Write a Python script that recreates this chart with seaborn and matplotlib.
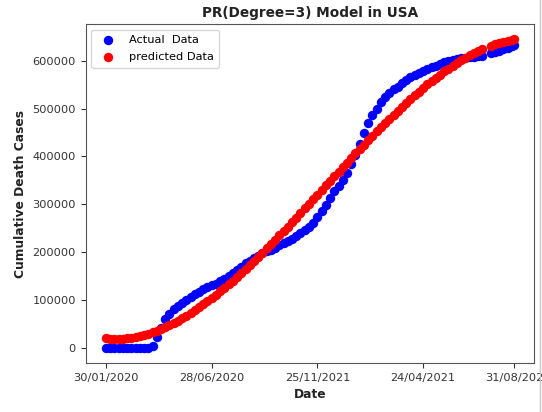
import matplotlib
matplotlib.use("Agg")
import matplotlib.pyplot as plt
from matplotlib.lines import Line2D
import seaborn as sns
import pandas as pd

# Day index counted from 30/01/2020
days = [0, 6, 12, 18, 24, 30, 36, 42, 48, 54, 60, 66, 72, 78, 84, 90, 96, 102,
        108, 114, 120, 126, 132, 138, 144, 150, 156, 162, 168, 174, 180, 186,
        192, 198, 204, 210, 216, 222, 228, 234, 240, 246, 252, 258, 264, 270,
        276, 282, 288, 294, 300, 306, 312, 318, 324, 330, 336, 342, 348, 354,
        360, 366, 372, 378, 384, 390, 396, 402, 408, 414, 420, 426, 432, 438,
        444, 450, 456, 462, 468, 474, 480, 486, 492, 498, 504, 510, 516, 522,
        528, 534, 546, 552, 558, 564, 570, 576, 579]

# Cumulative deaths, recorded
actual = [0, 0, 0, 0, 0, 0, 0, 0, 0, 0, 0, 3000, 22000, 42000, 60000, 71000,
          80000, 86000, 94000, 100000, 106000, 112000, 117000, 122000, 126000,
          130000, 134000, 139000, 144000, 149000, 155000, 162000, 169000,
          176000, 182000, 187000, 192000, 197000, 201000, 205000, 209000,
          214000, 218000, 223000, 228000, 234000, 240000, 246000, 253000,
          261000, 273000, 286000, 299000, 313000, 327000, 339000, 350000,
          365000, 383000, 403000, 425000, 448000, 469000, 486000, 500000,
          513000, 524000, 533000, 540000, 546000, 553000, 559000, 565000,
          570000, 574000, 578000, 582000, 586000, 590000, 594000, 597000,
          599000, 601000, 603000, 605000, 606000, 607000, 608000, 609000,
          610000, 617000, 619000, 621000, 624000, 627000, 630000, 632000]

# Cumulative deaths, degree-3 polynomial regression output
predicted = [19500, 18700, 18400, 18400, 18800, 19700, 20800, 22400, 24300,
             26500, 29100, 32100, 35300, 38900, 42700, 46900, 51400, 56100,
             61200, 66500, 72000, 77800, 83900, 90200, 96700, 103400, 110400,
             117500, 124900, 132400, 140100, 148000, 156100, 164300, 172600,
             181100, 189800, 198500, 207400, 216400, 225400, 234600, 243800,
             253200, 262600, 272000, 281500, 291000, 300600, 310200, 319900,
             329500, 339100, 348800, 358400, 368000, 377500, 387100, 396600,
             406000, 415400, 424700, 433900, 443000, 452100, 461000, 469800,
             478600, 487200, 495600, 503900, 512100, 520100, 527900, 535600,
             543100, 550400, 557500, 564400, 571000, 577500, 583700, 589700,
             595400, 600900, 606100, 611100, 615700, 620100, 624200, 631400,
             634600, 637400, 639900, 642100, 643800, 644600]

tick_days = [0, 150, 300, 450, 579]
tick_labels = ["30/01/2020", "28/06/2020", "25/11/2021", "24/04/2021", "31/08/202"]
y_ticks = [0, 100000, 200000, 300000, 400000, 500000, 600000]

df = pd.DataFrame({"day": days, "actual": actual, "predicted": predicted})

plt.rcParams["font.family"] = ["DejaVu Sans"]
W, H = 542, 412
fig = plt.figure(figsize=(W / 100, H / 100), dpi=100)
ax = fig.add_axes([85.6 / W, 49 / H, 448.8 / W, 339 / H])

sns.scatterplot(data=df, x="day", y="actual", color="blue", s=46,
                linewidth=0, label="Actual  Data", ax=ax)
sns.scatterplot(data=df, x="day", y="predicted", color="red", s=46,
                linewidth=0, label="predicted Data", ax=ax)

ax.set_xticks(tick_days)
ax.set_xticklabels(tick_labels)
ax.set_yticks(y_ticks)
ax.set_yticklabels([str(v) for v in y_ticks])
ax.tick_params(labelsize=8.2, colors="#333333", length=3.5)
for sp in ax.spines.values():
    sp.set_color("#555555")

ax.set_title("PR(Degree=3) Model in USA", fontsize=9.8, fontweight="bold",
             color="#222222", pad=5)
ax.set_xlabel("Date", fontsize=8.8, fontweight="bold", color="#222222")
ax.set_ylabel("Cumulative Death Cases", fontsize=8.8, fontweight="bold",
              color="#222222")
ax.legend(loc="upper left", fontsize=8.2, frameon=True, labelspacing=0.6,
          borderpad=0.5)

# thin grey rule along the right page edge
fig.add_artist(Line2D([539.5 / W, 539.5 / W], [0, 1],
                      transform=fig.transFigure, color="#c8c8c8",
                      linewidth=1.0, zorder=11))

fig.savefig("out.png", dpi=100)
